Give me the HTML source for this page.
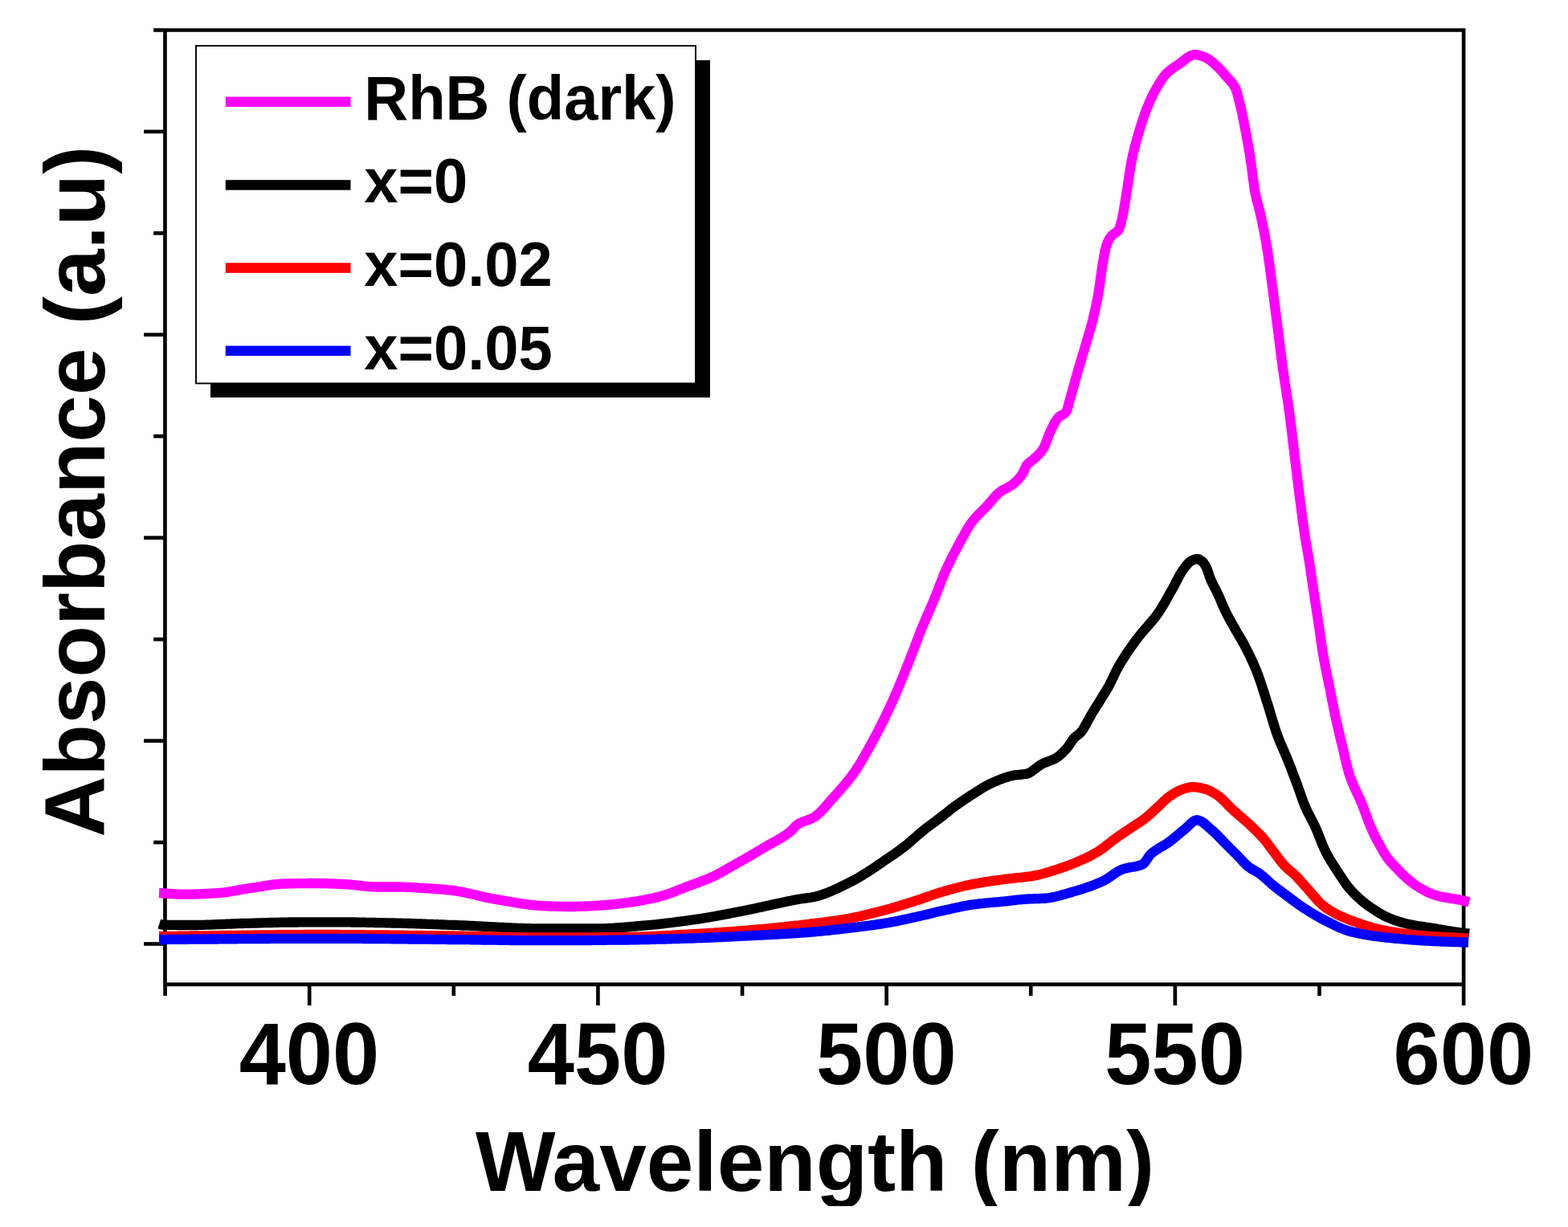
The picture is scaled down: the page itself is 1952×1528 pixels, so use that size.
<!DOCTYPE html>
<html lang="en"><head><meta charset="utf-8"><title>Absorbance vs Wavelength</title>
<style>html,body{margin:0;padding:0;background:#fff;}body{width:1952px;height:1528px;overflow:hidden;}svg{display:block;}</style>
</head><body>
<svg width="1952" height="1528" viewBox="0 0 1952 1528">
<rect width="1952" height="1528" fill="#fff"/>
<g stroke="#000" stroke-width="4.65" fill="none" stroke-linecap="butt">
<path d="M205.45,35.125 V1228.125 M1822.1,35.125 V1228.125 M203.125,37.45 H1824.425 M203.125,1225.8 H1824.425"/>
<path d="M205.59,1227.925 v12.2"/>
<path d="M385.20,1227.925 v24.2"/>
<path d="M564.81,1227.925 v12.2"/>
<path d="M744.42,1227.925 v24.2"/>
<path d="M924.04,1227.925 v12.2"/>
<path d="M1103.65,1227.925 v24.2"/>
<path d="M1283.26,1227.925 v12.2"/>
<path d="M1462.88,1227.925 v24.2"/>
<path d="M1642.49,1227.925 v12.2"/>
<path d="M1822.10,1227.925 v24.2"/>
<path d="M203.325,1175.45 h-24.2"/>
<path d="M203.325,1049.01 h-12.2"/>
<path d="M203.325,922.57 h-24.2"/>
<path d="M203.325,796.13 h-12.2"/>
<path d="M203.325,669.69 h-24.2"/>
<path d="M203.325,543.25 h-12.2"/>
<path d="M203.325,416.81 h-24.2"/>
<path d="M203.325,290.37 h-12.2"/>
<path d="M203.325,163.93 h-24.2"/>
<path d="M203.325,37.49 h-12.2"/>
</g>
<path d="M198.0,1112.0 L200.0,1112.1 L202.0,1112.2 L204.0,1112.4 L206.0,1112.5 L208.0,1112.7 L210.0,1112.8 L212.0,1113.0 L214.0,1113.1 L216.0,1113.2 L218.0,1113.4 L220.0,1113.5 L222.0,1113.6 L224.0,1113.6 L226.0,1113.7 L228.0,1113.7 L230.0,1113.8 L232.0,1113.7 L234.0,1113.7 L236.0,1113.7 L238.0,1113.7 L240.0,1113.6 L242.0,1113.6 L244.0,1113.5 L246.0,1113.4 L248.0,1113.4 L250.0,1113.3 L252.0,1113.2 L254.0,1113.1 L256.0,1113.0 L258.0,1112.9 L260.0,1112.8 L262.0,1112.7 L264.0,1112.5 L266.0,1112.4 L268.0,1112.3 L270.0,1112.2 L272.0,1112.0 L274.0,1111.9 L276.0,1111.7 L278.0,1111.5 L280.0,1111.3 L282.0,1111.0 L284.0,1110.7 L286.0,1110.4 L288.0,1110.0 L290.0,1109.7 L292.0,1109.3 L294.0,1109.0 L296.0,1108.6 L298.0,1108.2 L300.0,1107.9 L302.0,1107.5 L304.0,1107.2 L306.0,1106.9 L308.0,1106.5 L310.0,1106.2 L312.0,1106.0 L314.0,1105.7 L316.0,1105.4 L318.0,1105.0 L320.0,1104.7 L322.0,1104.4 L324.0,1104.1 L326.0,1103.7 L328.0,1103.4 L330.0,1103.1 L332.0,1102.8 L334.0,1102.5 L336.0,1102.2 L338.0,1101.9 L340.0,1101.7 L342.0,1101.4 L344.0,1101.2 L346.0,1101.0 L348.0,1100.9 L350.0,1100.7 L352.0,1100.6 L354.0,1100.5 L356.0,1100.5 L358.0,1100.4 L360.0,1100.4 L362.0,1100.4 L364.0,1100.3 L366.0,1100.3 L368.0,1100.2 L370.0,1100.2 L372.0,1100.2 L374.0,1100.2 L376.0,1100.1 L378.0,1100.1 L380.0,1100.1 L382.0,1100.1 L384.0,1100.0 L386.0,1100.0 L388.0,1100.0 L390.0,1100.0 L392.0,1100.0 L394.0,1100.0 L396.0,1100.0 L398.0,1100.0 L400.0,1100.0 L402.0,1100.1 L404.0,1100.1 L406.0,1100.2 L408.0,1100.2 L410.0,1100.3 L412.0,1100.4 L414.0,1100.5 L416.0,1100.6 L418.0,1100.7 L420.0,1100.8 L422.0,1100.8 L424.0,1100.9 L426.0,1101.1 L428.0,1101.2 L430.0,1101.2 L432.0,1101.4 L434.0,1101.5 L436.0,1101.7 L438.0,1101.8 L440.0,1102.0 L442.0,1102.2 L444.0,1102.5 L446.0,1102.7 L448.0,1102.9 L450.0,1103.1 L452.0,1103.3 L454.0,1103.5 L456.0,1103.7 L458.0,1103.9 L460.0,1104.1 L462.0,1104.2 L464.0,1104.3 L466.0,1104.4 L468.0,1104.5 L470.0,1104.5 L472.0,1104.5 L474.0,1104.5 L476.0,1104.5 L478.0,1104.5 L480.0,1104.5 L482.0,1104.5 L484.0,1104.5 L486.0,1104.5 L488.0,1104.5 L490.0,1104.5 L492.0,1104.5 L494.0,1104.5 L496.0,1104.5 L498.0,1104.5 L500.0,1104.6 L502.0,1104.6 L504.0,1104.7 L506.0,1104.8 L508.0,1104.8 L510.0,1104.9 L512.0,1105.1 L514.0,1105.2 L516.0,1105.3 L518.0,1105.4 L520.0,1105.5 L522.0,1105.7 L524.0,1105.8 L526.0,1105.9 L528.0,1106.0 L530.0,1106.1 L532.0,1106.3 L534.0,1106.4 L536.0,1106.5 L538.0,1106.6 L540.0,1106.8 L542.0,1106.9 L544.0,1107.1 L546.0,1107.2 L548.0,1107.4 L550.0,1107.5 L552.0,1107.7 L554.0,1107.9 L556.0,1108.1 L558.0,1108.3 L560.0,1108.5 L562.0,1108.7 L564.0,1108.9 L566.0,1109.2 L568.0,1109.5 L570.0,1109.8 L572.0,1110.1 L574.0,1110.5 L576.0,1110.9 L578.0,1111.3 L580.0,1111.7 L582.0,1112.2 L584.0,1112.6 L586.0,1113.1 L588.0,1113.6 L590.0,1114.1 L592.0,1114.5 L594.0,1115.0 L596.0,1115.5 L598.0,1116.0 L600.0,1116.4 L602.0,1116.9 L604.0,1117.3 L606.0,1117.8 L608.0,1118.2 L610.0,1118.6 L612.0,1119.0 L614.0,1119.3 L616.0,1119.7 L618.0,1120.0 L620.0,1120.3 L622.0,1120.7 L624.0,1121.0 L626.0,1121.4 L628.0,1121.7 L630.0,1122.1 L632.0,1122.5 L634.0,1122.8 L636.0,1123.2 L638.0,1123.5 L640.0,1123.8 L642.0,1124.2 L644.0,1124.5 L646.0,1124.8 L648.0,1125.1 L650.0,1125.4 L652.0,1125.7 L654.0,1126.0 L656.0,1126.3 L658.0,1126.5 L660.0,1126.8 L662.0,1127.0 L664.0,1127.2 L666.0,1127.4 L668.0,1127.6 L670.0,1127.8 L672.0,1127.9 L674.0,1128.1 L676.0,1128.2 L678.0,1128.2 L680.0,1128.3 L682.0,1128.4 L684.0,1128.5 L686.0,1128.5 L688.0,1128.6 L690.0,1128.7 L692.0,1128.7 L694.0,1128.8 L696.0,1128.8 L698.0,1128.9 L700.0,1128.9 L702.0,1128.9 L704.0,1129.0 L706.0,1129.0 L708.0,1129.0 L710.0,1129.0 L712.0,1129.0 L714.0,1129.0 L716.0,1129.0 L718.0,1128.9 L720.0,1128.9 L722.0,1128.8 L724.0,1128.7 L726.0,1128.7 L728.0,1128.6 L730.0,1128.5 L732.0,1128.4 L734.0,1128.3 L736.0,1128.2 L738.0,1128.1 L740.0,1128.0 L742.0,1127.8 L744.0,1127.7 L746.0,1127.6 L748.0,1127.5 L750.0,1127.4 L752.0,1127.2 L754.0,1127.1 L756.0,1126.9 L758.0,1126.7 L760.0,1126.6 L762.0,1126.4 L764.0,1126.1 L766.0,1125.9 L768.0,1125.7 L770.0,1125.5 L772.0,1125.2 L774.0,1125.0 L776.0,1124.7 L778.0,1124.5 L780.0,1124.2 L782.0,1124.0 L784.0,1123.7 L786.0,1123.4 L788.0,1123.1 L790.0,1122.8 L792.0,1122.5 L794.0,1122.1 L796.0,1121.8 L798.0,1121.4 L800.0,1121.1 L802.0,1120.7 L804.0,1120.3 L806.0,1119.9 L808.0,1119.5 L810.0,1119.1 L812.0,1118.7 L814.0,1118.2 L816.0,1117.7 L818.0,1117.2 L820.0,1116.7 L822.0,1116.2 L824.0,1115.7 L826.0,1115.1 L828.0,1114.5 L830.0,1113.9 L832.0,1113.2 L834.0,1112.5 L836.0,1111.8 L838.0,1111.0 L840.0,1110.2 L842.0,1109.4 L844.0,1108.6 L846.0,1107.8 L848.0,1107.0 L850.0,1106.2 L852.0,1105.4 L854.0,1104.6 L856.0,1103.9 L858.0,1103.1 L860.0,1102.4 L862.0,1101.7 L864.0,1100.9 L866.0,1100.2 L868.0,1099.5 L870.0,1098.8 L872.0,1098.0 L874.0,1097.2 L876.0,1096.5 L878.0,1095.7 L880.0,1094.9 L882.0,1094.0 L884.0,1093.2 L886.0,1092.3 L888.0,1091.3 L890.0,1090.4 L892.0,1089.4 L894.0,1088.3 L896.0,1087.3 L898.0,1086.2 L900.0,1085.1 L902.0,1083.9 L904.0,1082.8 L906.0,1081.7 L908.0,1080.5 L910.0,1079.4 L912.0,1078.2 L914.0,1077.1 L916.0,1076.0 L918.0,1074.8 L920.0,1073.7 L922.0,1072.6 L924.0,1071.4 L926.0,1070.3 L928.0,1069.2 L930.0,1068.0 L932.0,1066.8 L934.0,1065.7 L936.0,1064.5 L938.0,1063.4 L940.0,1062.2 L942.0,1061.0 L944.0,1059.8 L946.0,1058.6 L948.0,1057.5 L950.0,1056.3 L952.0,1055.1 L954.0,1053.9 L956.0,1052.8 L958.0,1051.6 L960.0,1050.5 L962.0,1049.4 L964.0,1048.3 L966.0,1047.2 L968.0,1046.0 L970.0,1044.9 L972.0,1043.7 L974.0,1042.5 L976.0,1041.2 L978.0,1039.9 L980.0,1038.5 L982.0,1037.0 L984.0,1035.4 L986.0,1033.5 L988.0,1031.3 L990.0,1029.2 L992.0,1027.3 L994.0,1026.0 L996.0,1024.9 L998.0,1024.0 L1000.0,1023.2 L1002.0,1022.5 L1004.0,1021.8 L1006.0,1021.1 L1008.0,1020.4 L1010.0,1019.6 L1012.0,1018.6 L1014.0,1017.4 L1016.0,1016.0 L1018.0,1014.3 L1020.0,1012.5 L1022.0,1010.6 L1024.0,1008.5 L1026.0,1006.3 L1028.0,1004.0 L1030.0,1001.7 L1032.0,999.4 L1034.0,997.0 L1036.0,994.7 L1038.0,992.5 L1040.0,990.3 L1042.0,988.1 L1044.0,985.9 L1046.0,983.6 L1048.0,981.3 L1050.0,979.0 L1052.0,976.7 L1054.0,974.3 L1056.0,971.8 L1058.0,969.2 L1060.0,966.6 L1062.0,963.9 L1064.0,961.1 L1066.0,958.1 L1068.0,955.1 L1070.0,951.9 L1072.0,948.6 L1074.0,945.2 L1076.0,941.7 L1078.0,938.2 L1080.0,934.6 L1082.0,931.0 L1084.0,927.4 L1086.0,923.7 L1088.0,920.0 L1090.0,916.3 L1092.0,912.5 L1094.0,908.6 L1096.0,904.7 L1098.0,900.8 L1100.0,896.7 L1102.0,892.6 L1104.0,888.5 L1106.0,884.3 L1108.0,880.0 L1110.0,875.6 L1112.0,871.2 L1114.0,866.6 L1116.0,862.0 L1118.0,857.3 L1120.0,852.5 L1122.0,847.7 L1124.0,842.8 L1126.0,837.8 L1128.0,832.8 L1130.0,827.7 L1132.0,822.7 L1134.0,817.6 L1136.0,812.4 L1138.0,807.2 L1140.0,801.9 L1142.0,796.6 L1144.0,791.4 L1146.0,786.2 L1148.0,781.3 L1150.0,776.5 L1152.0,771.8 L1154.0,767.2 L1156.0,762.6 L1158.0,758.1 L1160.0,753.4 L1162.0,748.7 L1164.0,743.8 L1166.0,738.8 L1168.0,733.6 L1170.0,728.4 L1172.0,723.2 L1174.0,718.2 L1176.0,713.4 L1178.0,708.9 L1180.0,704.6 L1182.0,700.4 L1184.0,696.3 L1186.0,692.3 L1188.0,688.5 L1190.0,684.7 L1192.0,680.9 L1194.0,677.2 L1196.0,673.5 L1198.0,669.8 L1200.0,666.1 L1202.0,662.5 L1204.0,659.1 L1206.0,655.8 L1208.0,652.8 L1210.0,650.0 L1212.0,647.5 L1214.0,645.1 L1216.0,642.9 L1218.0,640.8 L1220.0,638.8 L1222.0,636.8 L1224.0,634.9 L1226.0,632.9 L1228.0,630.8 L1230.0,628.6 L1232.0,626.3 L1234.0,624.0 L1236.0,621.6 L1238.0,619.3 L1240.0,617.1 L1242.0,615.1 L1244.0,613.3 L1246.0,611.8 L1248.0,610.5 L1250.0,609.4 L1252.0,608.4 L1254.0,607.4 L1256.0,606.3 L1258.0,605.1 L1260.0,603.8 L1262.0,602.2 L1264.0,600.5 L1266.0,598.6 L1268.0,596.5 L1270.0,594.1 L1272.0,591.4 L1274.0,588.3 L1276.0,583.2 L1278.0,579.3 L1280.0,577.2 L1282.0,575.5 L1284.0,574.1 L1286.0,572.6 L1288.0,570.8 L1290.0,568.9 L1292.0,566.9 L1294.0,564.9 L1296.0,562.6 L1298.0,559.9 L1300.0,556.5 L1302.0,551.7 L1304.0,546.3 L1306.0,540.9 L1308.0,536.5 L1310.0,532.4 L1312.0,528.4 L1314.0,524.9 L1316.0,521.8 L1318.0,519.5 L1320.0,518.0 L1322.0,516.9 L1324.0,515.8 L1326.0,514.2 L1328.0,511.6 L1330.0,504.8 L1332.0,497.4 L1334.0,490.3 L1336.0,483.0 L1338.0,475.7 L1340.0,468.5 L1342.0,461.5 L1344.0,454.7 L1346.0,448.0 L1348.0,441.4 L1350.0,434.7 L1352.0,428.0 L1354.0,421.1 L1356.0,414.4 L1358.0,407.5 L1360.0,400.0 L1362.0,391.8 L1364.0,382.9 L1366.0,373.1 L1368.0,362.0 L1370.0,347.6 L1372.0,333.1 L1374.0,321.2 L1376.0,310.5 L1378.0,303.7 L1380.0,299.3 L1382.0,296.0 L1384.0,293.5 L1386.0,291.7 L1388.0,290.4 L1390.0,289.0 L1392.0,286.9 L1394.0,282.9 L1396.0,276.0 L1398.0,267.0 L1400.0,255.4 L1402.0,243.0 L1404.0,230.4 L1406.0,216.6 L1408.0,204.0 L1410.0,194.1 L1412.0,185.6 L1414.0,178.0 L1416.0,170.9 L1418.0,164.0 L1420.0,157.4 L1422.0,151.1 L1424.0,145.1 L1426.0,139.5 L1428.0,134.3 L1430.0,129.5 L1432.0,125.0 L1434.0,120.7 L1436.0,116.6 L1438.0,112.8 L1440.0,109.2 L1442.0,105.8 L1444.0,102.6 L1446.0,99.5 L1448.0,96.6 L1450.0,94.0 L1452.0,91.8 L1454.0,89.8 L1456.0,88.1 L1458.0,86.5 L1460.0,85.0 L1462.0,83.6 L1464.0,82.3 L1466.0,81.0 L1468.0,79.7 L1470.0,78.2 L1472.0,76.6 L1474.0,75.0 L1476.0,73.5 L1478.0,72.0 L1480.0,70.6 L1482.0,69.5 L1484.0,68.6 L1486.0,68.1 L1488.0,68.0 L1490.0,68.2 L1492.0,68.6 L1494.0,69.1 L1496.0,69.8 L1498.0,70.5 L1500.0,71.2 L1502.0,72.2 L1504.0,73.3 L1506.0,74.7 L1508.0,76.3 L1510.0,78.0 L1512.0,79.8 L1514.0,81.6 L1516.0,83.4 L1518.0,85.4 L1520.0,87.5 L1522.0,89.8 L1524.0,92.1 L1526.0,94.5 L1528.0,96.8 L1530.0,99.0 L1532.0,101.1 L1534.0,103.4 L1536.0,106.2 L1538.0,109.8 L1540.0,115.5 L1542.0,123.0 L1544.0,131.0 L1546.0,139.9 L1548.0,149.7 L1550.0,160.0 L1552.0,170.5 L1554.0,181.5 L1556.0,193.4 L1558.0,207.5 L1560.0,223.3 L1562.0,237.2 L1564.0,246.9 L1566.0,254.4 L1568.0,261.8 L1570.0,270.7 L1572.0,280.1 L1574.0,290.3 L1576.0,301.2 L1578.0,313.1 L1580.0,326.8 L1582.0,341.8 L1584.0,357.3 L1586.0,372.6 L1588.0,388.3 L1590.0,403.9 L1592.0,419.8 L1594.0,435.8 L1596.0,451.4 L1598.0,466.0 L1600.0,479.3 L1602.0,492.1 L1604.0,505.3 L1606.0,520.2 L1608.0,536.6 L1610.0,553.8 L1612.0,570.9 L1614.0,587.2 L1616.0,603.3 L1618.0,619.2 L1620.0,634.7 L1622.0,650.1 L1624.0,664.2 L1626.0,676.4 L1628.0,688.0 L1630.0,700.0 L1632.0,713.3 L1634.0,727.1 L1636.0,740.8 L1638.0,754.0 L1640.0,766.9 L1642.0,780.0 L1644.0,794.0 L1646.0,808.0 L1648.0,820.4 L1650.0,830.9 L1652.0,840.6 L1654.0,850.1 L1656.0,860.0 L1658.0,870.3 L1660.0,880.4 L1662.0,890.2 L1664.0,899.3 L1666.0,908.1 L1668.0,916.5 L1670.0,924.8 L1672.0,933.1 L1674.0,941.8 L1676.0,950.3 L1678.0,958.2 L1680.0,965.0 L1682.0,970.7 L1684.0,975.7 L1686.0,980.3 L1688.0,984.6 L1690.0,988.8 L1692.0,993.1 L1694.0,997.6 L1696.0,1002.5 L1698.0,1007.8 L1700.0,1013.2 L1702.0,1018.6 L1704.0,1024.0 L1706.0,1029.0 L1708.0,1033.6 L1710.0,1037.9 L1712.0,1042.0 L1714.0,1045.8 L1716.0,1049.5 L1718.0,1053.2 L1720.0,1056.8 L1722.0,1060.3 L1724.0,1063.6 L1726.0,1066.6 L1728.0,1069.4 L1730.0,1071.9 L1732.0,1074.2 L1734.0,1076.3 L1736.0,1078.4 L1738.0,1080.5 L1740.0,1082.6 L1742.0,1084.7 L1744.0,1086.8 L1746.0,1088.8 L1748.0,1090.7 L1750.0,1092.5 L1752.0,1094.3 L1754.0,1096.0 L1756.0,1097.7 L1758.0,1099.3 L1760.0,1100.8 L1762.0,1102.2 L1764.0,1103.4 L1766.0,1104.7 L1768.0,1105.9 L1770.0,1107.1 L1772.0,1108.2 L1774.0,1109.3 L1776.0,1110.4 L1778.0,1111.3 L1780.0,1112.3 L1782.0,1113.1 L1784.0,1113.9 L1786.0,1114.5 L1788.0,1115.1 L1790.0,1115.7 L1792.0,1116.2 L1794.0,1116.6 L1796.0,1117.0 L1798.0,1117.4 L1800.0,1117.7 L1802.0,1118.1 L1804.0,1118.4 L1806.0,1118.7 L1808.0,1119.1 L1810.0,1119.4 L1812.0,1119.7 L1814.0,1120.1 L1816.0,1120.4 L1818.0,1120.8 L1820.0,1121.2 L1822.0,1121.7 L1824.0,1122.2 L1826.0,1122.7 L1828.0,1123.2 L1829.0,1123.5" fill="none" stroke="#ff00ff" stroke-width="12.3" stroke-linejoin="round" stroke-linecap="butt"/>
<path d="M198.3,1150.6 L200.3,1151.2 L202.3,1151.7 L204.3,1151.8 L206.3,1151.8 L208.3,1151.9 L210.3,1151.9 L212.3,1151.9 L214.3,1151.9 L216.3,1151.9 L218.3,1151.9 L220.3,1152.0 L222.3,1152.0 L224.3,1152.0 L226.3,1152.0 L228.3,1152.0 L230.3,1152.0 L232.3,1152.0 L234.3,1152.0 L236.3,1152.0 L238.3,1152.0 L240.3,1152.0 L242.3,1152.0 L244.3,1152.0 L246.3,1152.0 L248.3,1151.9 L250.3,1151.9 L252.3,1151.8 L254.3,1151.8 L256.3,1151.7 L258.3,1151.7 L260.3,1151.6 L262.3,1151.6 L264.3,1151.5 L266.3,1151.4 L268.3,1151.3 L270.3,1151.2 L272.3,1151.2 L274.3,1151.1 L276.3,1151.0 L278.3,1150.9 L280.3,1150.8 L282.3,1150.7 L284.3,1150.6 L286.3,1150.6 L288.3,1150.5 L290.3,1150.4 L292.3,1150.3 L294.3,1150.2 L296.3,1150.2 L298.3,1150.1 L300.3,1150.0 L302.3,1150.0 L304.3,1149.9 L306.3,1149.9 L308.3,1149.8 L310.3,1149.8 L312.3,1149.7 L314.3,1149.6 L316.3,1149.6 L318.3,1149.5 L320.3,1149.5 L322.3,1149.4 L324.3,1149.4 L326.3,1149.3 L328.3,1149.2 L330.3,1149.2 L332.3,1149.1 L334.3,1149.1 L336.3,1149.0 L338.3,1149.0 L340.3,1148.9 L342.3,1148.9 L344.3,1148.8 L346.3,1148.8 L348.3,1148.7 L350.3,1148.7 L352.3,1148.7 L354.3,1148.6 L356.3,1148.6 L358.3,1148.6 L360.3,1148.5 L362.3,1148.5 L364.3,1148.5 L366.3,1148.5 L368.3,1148.5 L370.3,1148.5 L372.3,1148.4 L374.3,1148.4 L376.3,1148.4 L378.3,1148.4 L380.3,1148.4 L382.3,1148.4 L384.3,1148.3 L386.3,1148.3 L388.3,1148.3 L390.3,1148.3 L392.3,1148.3 L394.3,1148.3 L396.3,1148.3 L398.3,1148.3 L400.3,1148.3 L402.3,1148.3 L404.3,1148.3 L406.3,1148.3 L408.3,1148.3 L410.3,1148.3 L412.3,1148.3 L414.3,1148.3 L416.3,1148.3 L418.3,1148.3 L420.3,1148.3 L422.3,1148.3 L424.3,1148.3 L426.3,1148.3 L428.3,1148.3 L430.3,1148.4 L432.3,1148.4 L434.3,1148.4 L436.3,1148.4 L438.3,1148.5 L440.3,1148.5 L442.3,1148.5 L444.3,1148.6 L446.3,1148.6 L448.3,1148.6 L450.3,1148.7 L452.3,1148.7 L454.3,1148.7 L456.3,1148.8 L458.3,1148.8 L460.3,1148.9 L462.3,1148.9 L464.3,1148.9 L466.3,1149.0 L468.3,1149.0 L470.3,1149.1 L472.3,1149.1 L474.3,1149.2 L476.3,1149.2 L478.3,1149.2 L480.3,1149.3 L482.3,1149.3 L484.3,1149.4 L486.3,1149.4 L488.3,1149.5 L490.3,1149.5 L492.3,1149.6 L494.3,1149.6 L496.3,1149.6 L498.3,1149.7 L500.3,1149.7 L502.3,1149.8 L504.3,1149.9 L506.3,1149.9 L508.3,1150.0 L510.3,1150.0 L512.3,1150.1 L514.3,1150.2 L516.3,1150.2 L518.3,1150.3 L520.3,1150.4 L522.3,1150.4 L524.3,1150.5 L526.3,1150.6 L528.3,1150.6 L530.3,1150.7 L532.3,1150.8 L534.3,1150.9 L536.3,1150.9 L538.3,1151.0 L540.3,1151.1 L542.3,1151.2 L544.3,1151.2 L546.3,1151.3 L548.3,1151.4 L550.3,1151.5 L552.3,1151.5 L554.3,1151.6 L556.3,1151.7 L558.3,1151.8 L560.3,1151.8 L562.3,1151.9 L564.3,1152.0 L566.3,1152.0 L568.3,1152.1 L570.3,1152.2 L572.3,1152.3 L574.3,1152.4 L576.3,1152.5 L578.3,1152.5 L580.3,1152.6 L582.3,1152.7 L584.3,1152.8 L586.3,1152.9 L588.3,1153.0 L590.3,1153.1 L592.3,1153.2 L594.3,1153.3 L596.3,1153.4 L598.3,1153.5 L600.3,1153.6 L602.3,1153.8 L604.3,1153.9 L606.3,1154.0 L608.3,1154.1 L610.3,1154.2 L612.3,1154.3 L614.3,1154.4 L616.3,1154.5 L618.3,1154.6 L620.3,1154.7 L622.3,1154.8 L624.3,1154.9 L626.3,1155.0 L628.3,1155.1 L630.3,1155.2 L632.3,1155.3 L634.3,1155.4 L636.3,1155.5 L638.3,1155.6 L640.3,1155.6 L642.3,1155.7 L644.3,1155.8 L646.3,1155.9 L648.3,1155.9 L650.3,1156.0 L652.3,1156.1 L654.3,1156.1 L656.3,1156.2 L658.3,1156.2 L660.3,1156.3 L662.3,1156.3 L664.3,1156.4 L666.3,1156.4 L668.3,1156.4 L670.3,1156.5 L672.3,1156.5 L674.3,1156.5 L676.3,1156.5 L678.3,1156.5 L680.3,1156.5 L682.3,1156.5 L684.3,1156.5 L686.3,1156.5 L688.3,1156.5 L690.3,1156.5 L692.3,1156.5 L694.3,1156.5 L696.3,1156.5 L698.3,1156.5 L700.3,1156.5 L702.3,1156.5 L704.3,1156.5 L706.3,1156.5 L708.3,1156.5 L710.3,1156.5 L712.3,1156.5 L714.3,1156.5 L716.3,1156.5 L718.3,1156.5 L720.3,1156.5 L722.3,1156.5 L724.3,1156.5 L726.3,1156.5 L728.3,1156.5 L730.3,1156.5 L732.3,1156.5 L734.3,1156.5 L736.3,1156.5 L738.3,1156.5 L740.3,1156.5 L742.3,1156.5 L744.3,1156.5 L746.3,1156.4 L748.3,1156.4 L750.3,1156.3 L752.3,1156.3 L754.3,1156.2 L756.3,1156.1 L758.3,1156.0 L760.3,1155.9 L762.3,1155.8 L764.3,1155.7 L766.3,1155.5 L768.3,1155.4 L770.3,1155.3 L772.3,1155.1 L774.3,1155.0 L776.3,1154.8 L778.3,1154.6 L780.3,1154.5 L782.3,1154.3 L784.3,1154.1 L786.3,1154.0 L788.3,1153.8 L790.3,1153.6 L792.3,1153.4 L794.3,1153.2 L796.3,1153.1 L798.3,1152.9 L800.3,1152.7 L802.3,1152.6 L804.3,1152.4 L806.3,1152.2 L808.3,1152.0 L810.3,1151.9 L812.3,1151.7 L814.3,1151.5 L816.3,1151.3 L818.3,1151.1 L820.3,1150.8 L822.3,1150.6 L824.3,1150.4 L826.3,1150.2 L828.3,1149.9 L830.3,1149.7 L832.3,1149.5 L834.3,1149.2 L836.3,1149.0 L838.3,1148.7 L840.3,1148.5 L842.3,1148.2 L844.3,1147.9 L846.3,1147.7 L848.3,1147.4 L850.3,1147.1 L852.3,1146.9 L854.3,1146.6 L856.3,1146.3 L858.3,1146.0 L860.3,1145.7 L862.3,1145.5 L864.3,1145.2 L866.3,1144.9 L868.3,1144.6 L870.3,1144.3 L872.3,1144.0 L874.3,1143.7 L876.3,1143.3 L878.3,1143.0 L880.3,1142.7 L882.3,1142.4 L884.3,1142.0 L886.3,1141.7 L888.3,1141.3 L890.3,1141.0 L892.3,1140.6 L894.3,1140.2 L896.3,1139.9 L898.3,1139.5 L900.3,1139.1 L902.3,1138.7 L904.3,1138.4 L906.3,1138.0 L908.3,1137.6 L910.3,1137.2 L912.3,1136.8 L914.3,1136.4 L916.3,1136.0 L918.3,1135.7 L920.3,1135.3 L922.3,1134.9 L924.3,1134.5 L926.3,1134.1 L928.3,1133.7 L930.3,1133.3 L932.3,1132.9 L934.3,1132.5 L936.3,1132.1 L938.3,1131.6 L940.3,1131.2 L942.3,1130.8 L944.3,1130.3 L946.3,1129.9 L948.3,1129.5 L950.3,1129.0 L952.3,1128.6 L954.3,1128.1 L956.3,1127.7 L958.3,1127.3 L960.3,1126.8 L962.3,1126.4 L964.3,1125.9 L966.3,1125.5 L968.3,1125.1 L970.3,1124.6 L972.3,1124.2 L974.3,1123.8 L976.3,1123.4 L978.3,1122.9 L980.3,1122.5 L982.3,1122.1 L984.3,1121.7 L986.3,1121.3 L988.3,1120.9 L990.3,1120.5 L992.3,1120.1 L994.3,1119.8 L996.3,1119.5 L998.3,1119.2 L1000.3,1118.9 L1002.3,1118.7 L1004.3,1118.4 L1006.3,1118.1 L1008.3,1117.8 L1010.3,1117.5 L1012.3,1117.1 L1014.3,1116.7 L1016.3,1116.2 L1018.3,1115.7 L1020.3,1115.1 L1022.3,1114.5 L1024.3,1113.8 L1026.3,1113.1 L1028.3,1112.4 L1030.3,1111.6 L1032.3,1110.8 L1034.3,1110.0 L1036.3,1109.1 L1038.3,1108.2 L1040.3,1107.3 L1042.3,1106.4 L1044.3,1105.4 L1046.3,1104.5 L1048.3,1103.5 L1050.3,1102.5 L1052.3,1101.5 L1054.3,1100.6 L1056.3,1099.6 L1058.3,1098.6 L1060.3,1097.6 L1062.3,1096.5 L1064.3,1095.5 L1066.3,1094.3 L1068.3,1093.2 L1070.3,1092.0 L1072.3,1090.8 L1074.3,1089.5 L1076.3,1088.3 L1078.3,1087.1 L1080.3,1085.8 L1082.3,1084.5 L1084.3,1083.2 L1086.3,1081.9 L1088.3,1080.6 L1090.3,1079.2 L1092.3,1077.8 L1094.3,1076.4 L1096.3,1075.1 L1098.3,1073.7 L1100.3,1072.3 L1102.3,1070.9 L1104.3,1069.6 L1106.3,1068.2 L1108.3,1066.9 L1110.3,1065.5 L1112.3,1064.1 L1114.3,1062.8 L1116.3,1061.4 L1118.3,1060.0 L1120.3,1058.5 L1122.3,1057.0 L1124.3,1055.5 L1126.3,1054.0 L1128.3,1052.4 L1130.3,1050.7 L1132.3,1049.0 L1134.3,1047.3 L1136.3,1045.5 L1138.3,1043.8 L1140.3,1042.0 L1142.3,1040.2 L1144.3,1038.5 L1146.3,1036.8 L1148.3,1035.1 L1150.3,1033.5 L1152.3,1031.9 L1154.3,1030.4 L1156.3,1028.9 L1158.3,1027.4 L1160.3,1026.0 L1162.3,1024.5 L1164.3,1023.0 L1166.3,1021.5 L1168.3,1020.0 L1170.3,1018.5 L1172.3,1017.0 L1174.3,1015.4 L1176.3,1013.8 L1178.3,1012.2 L1180.3,1010.6 L1182.3,1009.0 L1184.3,1007.4 L1186.3,1005.9 L1188.3,1004.4 L1190.3,1003.0 L1192.3,1001.5 L1194.3,1000.1 L1196.3,998.7 L1198.3,997.3 L1200.3,996.0 L1202.3,994.6 L1204.3,993.3 L1206.3,992.0 L1208.3,990.7 L1210.3,989.4 L1212.3,988.2 L1214.3,986.9 L1216.3,985.6 L1218.3,984.3 L1220.3,983.0 L1222.3,981.8 L1224.3,980.6 L1226.3,979.4 L1228.3,978.3 L1230.3,977.2 L1232.3,976.2 L1234.3,975.3 L1236.3,974.4 L1238.3,973.6 L1240.3,972.7 L1242.3,971.9 L1244.3,971.0 L1246.3,970.3 L1248.3,969.5 L1250.3,968.8 L1252.3,968.1 L1254.3,967.5 L1256.3,966.9 L1258.3,966.4 L1260.3,965.9 L1262.3,965.5 L1264.3,965.2 L1266.3,965.0 L1268.3,964.8 L1270.3,964.6 L1272.3,964.5 L1274.3,964.2 L1276.3,964.0 L1278.3,963.6 L1280.3,962.9 L1282.3,961.9 L1284.3,960.6 L1286.3,959.2 L1288.3,957.7 L1290.3,956.1 L1292.3,954.6 L1294.3,953.2 L1296.3,951.9 L1298.3,950.9 L1300.3,950.0 L1302.3,949.2 L1304.3,948.4 L1306.3,947.7 L1308.3,946.9 L1310.3,946.1 L1312.3,945.2 L1314.3,944.2 L1316.3,942.9 L1318.3,941.5 L1320.3,939.8 L1322.3,937.9 L1324.3,935.9 L1326.3,933.8 L1328.3,931.6 L1330.3,928.9 L1332.3,925.8 L1334.3,922.8 L1336.3,920.1 L1338.3,918.0 L1340.3,916.4 L1342.3,914.9 L1344.3,913.2 L1346.3,911.0 L1348.3,908.2 L1350.3,904.9 L1352.3,901.4 L1354.3,897.7 L1356.3,894.0 L1358.3,890.4 L1360.3,887.0 L1362.3,883.8 L1364.3,880.6 L1366.3,877.4 L1368.3,874.3 L1370.3,871.1 L1372.3,867.8 L1374.3,864.6 L1376.3,861.3 L1378.3,858.0 L1380.3,854.5 L1382.3,850.6 L1384.3,846.5 L1386.3,842.3 L1388.3,838.1 L1390.3,834.1 L1392.3,830.3 L1394.3,826.9 L1396.3,823.6 L1398.3,820.4 L1400.3,817.3 L1402.3,814.2 L1404.3,811.2 L1406.3,808.3 L1408.3,805.5 L1410.3,802.7 L1412.3,799.9 L1414.3,797.2 L1416.3,794.5 L1418.3,792.0 L1420.3,789.5 L1422.3,787.1 L1424.3,784.8 L1426.3,782.5 L1428.3,780.2 L1430.3,777.9 L1432.3,775.6 L1434.3,773.2 L1436.3,770.8 L1438.3,768.3 L1440.3,765.6 L1442.3,762.8 L1444.3,759.8 L1446.3,756.6 L1448.3,753.3 L1450.3,749.9 L1452.3,746.3 L1454.3,742.7 L1456.3,739.1 L1458.3,735.5 L1460.3,732.0 L1462.3,728.3 L1464.3,724.4 L1466.3,720.6 L1468.3,716.8 L1470.3,713.3 L1472.3,710.3 L1474.3,707.5 L1476.3,704.8 L1478.3,702.4 L1480.3,700.3 L1482.3,698.9 L1484.3,697.8 L1486.3,696.9 L1488.3,696.3 L1490.3,696.0 L1492.3,696.4 L1494.3,697.5 L1496.3,698.9 L1498.3,700.8 L1500.3,703.8 L1502.3,707.8 L1504.3,713.5 L1506.3,719.4 L1508.3,724.3 L1510.3,728.4 L1512.3,732.2 L1514.3,736.0 L1516.3,740.1 L1518.3,744.6 L1520.3,749.3 L1522.3,754.0 L1524.3,758.5 L1526.3,762.6 L1528.3,766.5 L1530.3,770.3 L1532.3,773.9 L1534.3,777.5 L1536.3,781.1 L1538.3,784.6 L1540.3,788.0 L1542.3,791.4 L1544.3,794.8 L1546.3,798.2 L1548.3,801.8 L1550.3,805.6 L1552.3,809.5 L1554.3,813.5 L1556.3,817.6 L1558.3,821.8 L1560.3,826.3 L1562.3,830.9 L1564.3,835.7 L1566.3,840.9 L1568.3,846.5 L1570.3,852.4 L1572.3,858.6 L1574.3,864.9 L1576.3,871.3 L1578.3,877.5 L1580.3,884.0 L1582.3,890.7 L1584.3,897.4 L1586.3,903.9 L1588.3,910.1 L1590.3,915.8 L1592.3,921.0 L1594.3,925.9 L1596.3,930.5 L1598.3,935.1 L1600.3,939.7 L1602.3,944.5 L1604.3,949.5 L1606.3,954.6 L1608.3,959.8 L1610.3,965.0 L1612.3,970.3 L1614.3,975.6 L1616.3,981.1 L1618.3,986.8 L1620.3,992.5 L1622.3,998.1 L1624.3,1003.3 L1626.3,1007.9 L1628.3,1012.1 L1630.3,1015.9 L1632.3,1019.7 L1634.3,1023.5 L1636.3,1027.5 L1638.3,1031.8 L1640.3,1036.6 L1642.3,1041.6 L1644.3,1046.7 L1646.3,1051.7 L1648.3,1056.4 L1650.3,1060.6 L1652.3,1064.4 L1654.3,1068.0 L1656.3,1071.4 L1658.3,1074.6 L1660.3,1077.8 L1662.3,1080.9 L1664.3,1083.9 L1666.3,1087.0 L1668.3,1090.1 L1670.3,1093.1 L1672.3,1096.2 L1674.3,1099.1 L1676.3,1101.9 L1678.3,1104.5 L1680.3,1106.9 L1682.3,1109.1 L1684.3,1111.3 L1686.3,1113.3 L1688.3,1115.3 L1690.3,1117.2 L1692.3,1119.0 L1694.3,1120.8 L1696.3,1122.5 L1698.3,1124.1 L1700.3,1125.7 L1702.3,1127.2 L1704.3,1128.6 L1706.3,1130.0 L1708.3,1131.4 L1710.3,1132.7 L1712.3,1134.0 L1714.3,1135.3 L1716.3,1136.5 L1718.3,1137.7 L1720.3,1138.8 L1722.3,1139.9 L1724.3,1140.9 L1726.3,1141.9 L1728.3,1142.8 L1730.3,1143.6 L1732.3,1144.4 L1734.3,1145.2 L1736.3,1145.9 L1738.3,1146.6 L1740.3,1147.2 L1742.3,1147.9 L1744.3,1148.5 L1746.3,1149.1 L1748.3,1149.6 L1750.3,1150.1 L1752.3,1150.6 L1754.3,1151.1 L1756.3,1151.5 L1758.3,1151.9 L1760.3,1152.3 L1762.3,1152.7 L1764.3,1153.0 L1766.3,1153.3 L1768.3,1153.6 L1770.3,1153.9 L1772.3,1154.2 L1774.3,1154.5 L1776.3,1154.8 L1778.3,1155.1 L1780.3,1155.4 L1782.3,1155.7 L1784.3,1156.0 L1786.3,1156.3 L1788.3,1156.6 L1790.3,1157.0 L1792.3,1157.3 L1794.3,1157.7 L1796.3,1158.0 L1798.3,1158.4 L1800.3,1158.7 L1802.3,1159.1 L1804.3,1159.4 L1806.3,1159.7 L1808.3,1160.0 L1810.3,1160.3 L1812.3,1160.6 L1814.3,1160.9 L1816.3,1161.2 L1818.3,1161.4 L1820.3,1161.7 L1822.3,1161.9 L1824.3,1162.2 L1826.3,1162.4 L1828.3,1162.7 L1829.0,1162.8" fill="none" stroke="#000" stroke-width="12.3" stroke-linejoin="round" stroke-linecap="butt"/>
<path d="M198.0,1166.0 L200.0,1166.0 L202.0,1166.0 L204.0,1165.9 L206.0,1165.9 L208.0,1165.9 L210.0,1165.9 L212.0,1165.9 L214.0,1165.8 L216.0,1165.8 L218.0,1165.8 L220.0,1165.8 L222.0,1165.7 L224.0,1165.7 L226.0,1165.7 L228.0,1165.7 L230.0,1165.6 L232.0,1165.6 L234.0,1165.6 L236.0,1165.6 L238.0,1165.5 L240.0,1165.5 L242.0,1165.5 L244.0,1165.5 L246.0,1165.4 L248.0,1165.4 L250.0,1165.4 L252.0,1165.4 L254.0,1165.3 L256.0,1165.3 L258.0,1165.3 L260.0,1165.3 L262.0,1165.2 L264.0,1165.2 L266.0,1165.2 L268.0,1165.1 L270.0,1165.1 L272.0,1165.1 L274.0,1165.1 L276.0,1165.0 L278.0,1165.0 L280.0,1165.0 L282.0,1165.0 L284.0,1164.9 L286.0,1164.9 L288.0,1164.9 L290.0,1164.9 L292.0,1164.8 L294.0,1164.8 L296.0,1164.8 L298.0,1164.8 L300.0,1164.7 L302.0,1164.7 L304.0,1164.7 L306.0,1164.7 L308.0,1164.6 L310.0,1164.6 L312.0,1164.6 L314.0,1164.6 L316.0,1164.5 L318.0,1164.5 L320.0,1164.5 L322.0,1164.5 L324.0,1164.5 L326.0,1164.4 L328.0,1164.4 L330.0,1164.4 L332.0,1164.4 L334.0,1164.4 L336.0,1164.3 L338.0,1164.3 L340.0,1164.3 L342.0,1164.3 L344.0,1164.3 L346.0,1164.2 L348.0,1164.2 L350.0,1164.2 L352.0,1164.2 L354.0,1164.2 L356.0,1164.2 L358.0,1164.2 L360.0,1164.1 L362.0,1164.1 L364.0,1164.1 L366.0,1164.1 L368.0,1164.1 L370.0,1164.1 L372.0,1164.1 L374.0,1164.1 L376.0,1164.1 L378.0,1164.0 L380.0,1164.0 L382.0,1164.0 L384.0,1164.0 L386.0,1164.0 L388.0,1164.0 L390.0,1164.0 L392.0,1164.0 L394.0,1164.0 L396.0,1164.0 L398.0,1164.0 L400.0,1164.0 L402.0,1164.0 L404.0,1164.0 L406.0,1164.0 L408.0,1164.0 L410.0,1164.0 L412.0,1164.0 L414.0,1164.0 L416.0,1164.0 L418.0,1164.0 L420.0,1164.0 L422.0,1164.0 L424.0,1164.1 L426.0,1164.1 L428.0,1164.1 L430.0,1164.1 L432.0,1164.1 L434.0,1164.1 L436.0,1164.1 L438.0,1164.1 L440.0,1164.1 L442.0,1164.2 L444.0,1164.2 L446.0,1164.2 L448.0,1164.2 L450.0,1164.2 L452.0,1164.2 L454.0,1164.2 L456.0,1164.3 L458.0,1164.3 L460.0,1164.3 L462.0,1164.3 L464.0,1164.3 L466.0,1164.3 L468.0,1164.4 L470.0,1164.4 L472.0,1164.4 L474.0,1164.4 L476.0,1164.4 L478.0,1164.5 L480.0,1164.5 L482.0,1164.5 L484.0,1164.5 L486.0,1164.6 L488.0,1164.6 L490.0,1164.6 L492.0,1164.6 L494.0,1164.6 L496.0,1164.7 L498.0,1164.7 L500.0,1164.7 L502.0,1164.7 L504.0,1164.8 L506.0,1164.8 L508.0,1164.8 L510.0,1164.8 L512.0,1164.9 L514.0,1164.9 L516.0,1164.9 L518.0,1164.9 L520.0,1165.0 L522.0,1165.0 L524.0,1165.0 L526.0,1165.0 L528.0,1165.1 L530.0,1165.1 L532.0,1165.1 L534.0,1165.1 L536.0,1165.2 L538.0,1165.2 L540.0,1165.2 L542.0,1165.2 L544.0,1165.3 L546.0,1165.3 L548.0,1165.3 L550.0,1165.4 L552.0,1165.4 L554.0,1165.4 L556.0,1165.4 L558.0,1165.5 L560.0,1165.5 L562.0,1165.5 L564.0,1165.5 L566.0,1165.6 L568.0,1165.6 L570.0,1165.6 L572.0,1165.6 L574.0,1165.7 L576.0,1165.7 L578.0,1165.7 L580.0,1165.8 L582.0,1165.8 L584.0,1165.9 L586.0,1165.9 L588.0,1165.9 L590.0,1166.0 L592.0,1166.0 L594.0,1166.1 L596.0,1166.1 L598.0,1166.2 L600.0,1166.2 L602.0,1166.3 L604.0,1166.3 L606.0,1166.4 L608.0,1166.4 L610.0,1166.4 L612.0,1166.5 L614.0,1166.5 L616.0,1166.6 L618.0,1166.6 L620.0,1166.7 L622.0,1166.7 L624.0,1166.8 L626.0,1166.8 L628.0,1166.9 L630.0,1166.9 L632.0,1166.9 L634.0,1167.0 L636.0,1167.0 L638.0,1167.1 L640.0,1167.1 L642.0,1167.1 L644.0,1167.2 L646.0,1167.2 L648.0,1167.2 L650.0,1167.3 L652.0,1167.3 L654.0,1167.3 L656.0,1167.4 L658.0,1167.4 L660.0,1167.4 L662.0,1167.4 L664.0,1167.4 L666.0,1167.5 L668.0,1167.5 L670.0,1167.5 L672.0,1167.5 L674.0,1167.5 L676.0,1167.5 L678.0,1167.5 L680.0,1167.5 L682.0,1167.5 L684.0,1167.5 L686.0,1167.5 L688.0,1167.5 L690.0,1167.5 L692.0,1167.5 L694.0,1167.5 L696.0,1167.5 L698.0,1167.5 L700.0,1167.5 L702.0,1167.5 L704.0,1167.5 L706.0,1167.5 L708.0,1167.5 L710.0,1167.4 L712.0,1167.4 L714.0,1167.4 L716.0,1167.4 L718.0,1167.4 L720.0,1167.4 L722.0,1167.4 L724.0,1167.4 L726.0,1167.4 L728.0,1167.4 L730.0,1167.4 L732.0,1167.3 L734.0,1167.3 L736.0,1167.3 L738.0,1167.3 L740.0,1167.3 L742.0,1167.3 L744.0,1167.3 L746.0,1167.3 L748.0,1167.2 L750.0,1167.2 L752.0,1167.2 L754.0,1167.2 L756.0,1167.2 L758.0,1167.2 L760.0,1167.2 L762.0,1167.1 L764.0,1167.1 L766.0,1167.1 L768.0,1167.1 L770.0,1167.1 L772.0,1167.1 L774.0,1167.0 L776.0,1167.0 L778.0,1167.0 L780.0,1167.0 L782.0,1167.0 L784.0,1166.9 L786.0,1166.9 L788.0,1166.8 L790.0,1166.8 L792.0,1166.7 L794.0,1166.7 L796.0,1166.6 L798.0,1166.5 L800.0,1166.5 L802.0,1166.4 L804.0,1166.3 L806.0,1166.2 L808.0,1166.1 L810.0,1166.0 L812.0,1165.9 L814.0,1165.9 L816.0,1165.8 L818.0,1165.7 L820.0,1165.6 L822.0,1165.4 L824.0,1165.3 L826.0,1165.2 L828.0,1165.1 L830.0,1165.0 L832.0,1164.9 L834.0,1164.8 L836.0,1164.7 L838.0,1164.6 L840.0,1164.5 L842.0,1164.3 L844.0,1164.2 L846.0,1164.1 L848.0,1164.0 L850.0,1163.9 L852.0,1163.8 L854.0,1163.7 L856.0,1163.6 L858.0,1163.5 L860.0,1163.4 L862.0,1163.3 L864.0,1163.1 L866.0,1163.0 L868.0,1162.9 L870.0,1162.8 L872.0,1162.7 L874.0,1162.6 L876.0,1162.4 L878.0,1162.3 L880.0,1162.2 L882.0,1162.1 L884.0,1161.9 L886.0,1161.8 L888.0,1161.7 L890.0,1161.5 L892.0,1161.4 L894.0,1161.3 L896.0,1161.1 L898.0,1161.0 L900.0,1160.9 L902.0,1160.7 L904.0,1160.6 L906.0,1160.4 L908.0,1160.3 L910.0,1160.1 L912.0,1160.0 L914.0,1159.8 L916.0,1159.7 L918.0,1159.5 L920.0,1159.4 L922.0,1159.2 L924.0,1159.1 L926.0,1158.9 L928.0,1158.8 L930.0,1158.6 L932.0,1158.4 L934.0,1158.3 L936.0,1158.1 L938.0,1157.9 L940.0,1157.7 L942.0,1157.6 L944.0,1157.4 L946.0,1157.2 L948.0,1157.0 L950.0,1156.8 L952.0,1156.7 L954.0,1156.5 L956.0,1156.3 L958.0,1156.1 L960.0,1155.9 L962.0,1155.7 L964.0,1155.5 L966.0,1155.3 L968.0,1155.1 L970.0,1154.9 L972.0,1154.7 L974.0,1154.5 L976.0,1154.3 L978.0,1154.0 L980.0,1153.8 L982.0,1153.6 L984.0,1153.4 L986.0,1153.2 L988.0,1153.0 L990.0,1152.7 L992.0,1152.5 L994.0,1152.3 L996.0,1152.1 L998.0,1151.8 L1000.0,1151.6 L1002.0,1151.4 L1004.0,1151.1 L1006.0,1150.9 L1008.0,1150.7 L1010.0,1150.4 L1012.0,1150.2 L1014.0,1150.0 L1016.0,1149.7 L1018.0,1149.5 L1020.0,1149.2 L1022.0,1149.0 L1024.0,1148.7 L1026.0,1148.5 L1028.0,1148.2 L1030.0,1147.9 L1032.0,1147.7 L1034.0,1147.4 L1036.0,1147.1 L1038.0,1146.8 L1040.0,1146.6 L1042.0,1146.3 L1044.0,1146.0 L1046.0,1145.6 L1048.0,1145.3 L1050.0,1145.0 L1052.0,1144.7 L1054.0,1144.3 L1056.0,1144.0 L1058.0,1143.6 L1060.0,1143.2 L1062.0,1142.8 L1064.0,1142.4 L1066.0,1142.0 L1068.0,1141.6 L1070.0,1141.1 L1072.0,1140.7 L1074.0,1140.2 L1076.0,1139.8 L1078.0,1139.3 L1080.0,1138.8 L1082.0,1138.3 L1084.0,1137.8 L1086.0,1137.3 L1088.0,1136.8 L1090.0,1136.3 L1092.0,1135.8 L1094.0,1135.3 L1096.0,1134.8 L1098.0,1134.3 L1100.0,1133.8 L1102.0,1133.2 L1104.0,1132.7 L1106.0,1132.1 L1108.0,1131.6 L1110.0,1131.0 L1112.0,1130.4 L1114.0,1129.8 L1116.0,1129.2 L1118.0,1128.6 L1120.0,1128.0 L1122.0,1127.4 L1124.0,1126.8 L1126.0,1126.1 L1128.0,1125.5 L1130.0,1124.9 L1132.0,1124.2 L1134.0,1123.6 L1136.0,1123.0 L1138.0,1122.3 L1140.0,1121.7 L1142.0,1121.0 L1144.0,1120.4 L1146.0,1119.7 L1148.0,1119.0 L1150.0,1118.3 L1152.0,1117.6 L1154.0,1116.9 L1156.0,1116.2 L1158.0,1115.5 L1160.0,1114.8 L1162.0,1114.1 L1164.0,1113.4 L1166.0,1112.8 L1168.0,1112.1 L1170.0,1111.5 L1172.0,1110.9 L1174.0,1110.3 L1176.0,1109.7 L1178.0,1109.2 L1180.0,1108.6 L1182.0,1108.0 L1184.0,1107.5 L1186.0,1107.0 L1188.0,1106.4 L1190.0,1105.9 L1192.0,1105.4 L1194.0,1104.9 L1196.0,1104.4 L1198.0,1103.9 L1200.0,1103.4 L1202.0,1102.9 L1204.0,1102.5 L1206.0,1102.1 L1208.0,1101.6 L1210.0,1101.2 L1212.0,1100.8 L1214.0,1100.5 L1216.0,1100.1 L1218.0,1099.8 L1220.0,1099.4 L1222.0,1099.1 L1224.0,1098.7 L1226.0,1098.4 L1228.0,1098.1 L1230.0,1097.8 L1232.0,1097.5 L1234.0,1097.2 L1236.0,1096.9 L1238.0,1096.6 L1240.0,1096.4 L1242.0,1096.1 L1244.0,1095.8 L1246.0,1095.5 L1248.0,1095.3 L1250.0,1095.0 L1252.0,1094.7 L1254.0,1094.5 L1256.0,1094.3 L1258.0,1094.0 L1260.0,1093.8 L1262.0,1093.6 L1264.0,1093.4 L1266.0,1093.2 L1268.0,1093.0 L1270.0,1092.8 L1272.0,1092.6 L1274.0,1092.4 L1276.0,1092.1 L1278.0,1091.9 L1280.0,1091.6 L1282.0,1091.4 L1284.0,1091.1 L1286.0,1090.7 L1288.0,1090.4 L1290.0,1090.0 L1292.0,1089.6 L1294.0,1089.1 L1296.0,1088.6 L1298.0,1088.1 L1300.0,1087.6 L1302.0,1087.0 L1304.0,1086.4 L1306.0,1085.8 L1308.0,1085.1 L1310.0,1084.5 L1312.0,1083.9 L1314.0,1083.3 L1316.0,1082.6 L1318.0,1082.0 L1320.0,1081.3 L1322.0,1080.6 L1324.0,1079.9 L1326.0,1079.2 L1328.0,1078.5 L1330.0,1077.7 L1332.0,1077.0 L1334.0,1076.2 L1336.0,1075.4 L1338.0,1074.6 L1340.0,1073.8 L1342.0,1072.9 L1344.0,1072.0 L1346.0,1071.1 L1348.0,1070.2 L1350.0,1069.3 L1352.0,1068.4 L1354.0,1067.4 L1356.0,1066.4 L1358.0,1065.4 L1360.0,1064.3 L1362.0,1063.2 L1364.0,1062.1 L1366.0,1060.9 L1368.0,1059.7 L1370.0,1058.4 L1372.0,1057.0 L1374.0,1055.5 L1376.0,1054.0 L1378.0,1052.4 L1380.0,1050.8 L1382.0,1049.2 L1384.0,1047.6 L1386.0,1046.1 L1388.0,1044.6 L1390.0,1043.2 L1392.0,1041.8 L1394.0,1040.4 L1396.0,1039.1 L1398.0,1037.7 L1400.0,1036.3 L1402.0,1035.0 L1404.0,1033.6 L1406.0,1032.3 L1408.0,1030.9 L1410.0,1029.6 L1412.0,1028.3 L1414.0,1027.0 L1416.0,1025.7 L1418.0,1024.4 L1420.0,1023.1 L1422.0,1021.7 L1424.0,1020.3 L1426.0,1018.7 L1428.0,1017.1 L1430.0,1015.4 L1432.0,1013.6 L1434.0,1011.8 L1436.0,1009.9 L1438.0,1008.1 L1440.0,1006.2 L1442.0,1004.4 L1444.0,1002.5 L1446.0,1000.5 L1448.0,998.5 L1450.0,996.6 L1452.0,994.9 L1454.0,993.2 L1456.0,991.8 L1458.0,990.4 L1460.0,989.0 L1462.0,987.8 L1464.0,986.6 L1466.0,985.5 L1468.0,984.5 L1470.0,983.8 L1472.0,983.0 L1474.0,982.3 L1476.0,981.7 L1478.0,981.1 L1480.0,980.6 L1482.0,980.2 L1484.0,980.0 L1486.0,980.0 L1488.0,980.1 L1490.0,980.4 L1492.0,980.7 L1494.0,981.1 L1496.0,981.5 L1498.0,982.0 L1500.0,982.5 L1502.0,983.1 L1504.0,983.9 L1506.0,984.8 L1508.0,985.8 L1510.0,986.9 L1512.0,988.1 L1514.0,989.4 L1516.0,990.7 L1518.0,992.2 L1520.0,993.9 L1522.0,995.7 L1524.0,997.7 L1526.0,999.7 L1528.0,1001.8 L1530.0,1003.9 L1532.0,1005.9 L1534.0,1007.8 L1536.0,1009.6 L1538.0,1011.4 L1540.0,1013.2 L1542.0,1014.9 L1544.0,1016.6 L1546.0,1018.3 L1548.0,1020.0 L1550.0,1021.7 L1552.0,1023.5 L1554.0,1025.3 L1556.0,1027.2 L1558.0,1029.1 L1560.0,1030.9 L1562.0,1032.9 L1564.0,1034.8 L1566.0,1036.8 L1568.0,1038.8 L1570.0,1041.0 L1572.0,1043.2 L1574.0,1045.5 L1576.0,1048.0 L1578.0,1050.6 L1580.0,1053.3 L1582.0,1056.0 L1584.0,1058.7 L1586.0,1061.3 L1588.0,1063.9 L1590.0,1066.6 L1592.0,1069.3 L1594.0,1071.9 L1596.0,1074.4 L1598.0,1076.8 L1600.0,1079.0 L1602.0,1080.9 L1604.0,1082.7 L1606.0,1084.4 L1608.0,1086.0 L1610.0,1087.7 L1612.0,1089.5 L1614.0,1091.5 L1616.0,1093.6 L1618.0,1095.9 L1620.0,1098.1 L1622.0,1100.4 L1624.0,1102.7 L1626.0,1104.8 L1628.0,1107.1 L1630.0,1109.4 L1632.0,1111.7 L1634.0,1114.0 L1636.0,1116.3 L1638.0,1118.6 L1640.0,1120.8 L1642.0,1123.0 L1644.0,1125.0 L1646.0,1126.8 L1648.0,1128.5 L1650.0,1130.0 L1652.0,1131.4 L1654.0,1132.7 L1656.0,1133.9 L1658.0,1135.1 L1660.0,1136.3 L1662.0,1137.4 L1664.0,1138.4 L1666.0,1139.4 L1668.0,1140.4 L1670.0,1141.3 L1672.0,1142.2 L1674.0,1143.1 L1676.0,1143.9 L1678.0,1144.7 L1680.0,1145.5 L1682.0,1146.3 L1684.0,1147.0 L1686.0,1147.8 L1688.0,1148.5 L1690.0,1149.2 L1692.0,1149.9 L1694.0,1150.6 L1696.0,1151.3 L1698.0,1152.0 L1700.0,1152.6 L1702.0,1153.2 L1704.0,1153.9 L1706.0,1154.4 L1708.0,1155.0 L1710.0,1155.6 L1712.0,1156.1 L1714.0,1156.6 L1716.0,1157.1 L1718.0,1157.6 L1720.0,1158.0 L1722.0,1158.4 L1724.0,1158.8 L1726.0,1159.2 L1728.0,1159.5 L1730.0,1159.9 L1732.0,1160.2 L1734.0,1160.6 L1736.0,1160.9 L1738.0,1161.2 L1740.0,1161.5 L1742.0,1161.8 L1744.0,1162.1 L1746.0,1162.4 L1748.0,1162.6 L1750.0,1162.9 L1752.0,1163.2 L1754.0,1163.4 L1756.0,1163.6 L1758.0,1163.9 L1760.0,1164.1 L1762.0,1164.3 L1764.0,1164.5 L1766.0,1164.7 L1768.0,1164.9 L1770.0,1165.1 L1772.0,1165.3 L1774.0,1165.4 L1776.0,1165.6 L1778.0,1165.7 L1780.0,1165.9 L1782.0,1166.0 L1784.0,1166.1 L1786.0,1166.3 L1788.0,1166.4 L1790.0,1166.5 L1792.0,1166.6 L1794.0,1166.8 L1796.0,1166.9 L1798.0,1167.0 L1800.0,1167.1 L1802.0,1167.2 L1804.0,1167.3 L1806.0,1167.4 L1808.0,1167.5 L1810.0,1167.6 L1812.0,1167.7 L1814.0,1167.8 L1816.0,1167.9 L1818.0,1168.0 L1820.0,1168.1 L1822.0,1168.2 L1824.0,1168.3 L1826.0,1168.4 L1828.0,1168.5" fill="none" stroke="#ff0000" stroke-width="12.3" stroke-linejoin="round" stroke-linecap="butt"/>
<path d="M198.0,1170.0 L200.0,1170.0 L202.0,1170.0 L204.0,1170.0 L206.0,1169.9 L208.0,1169.9 L210.0,1169.9 L212.0,1169.9 L214.0,1169.9 L216.0,1169.9 L218.0,1169.9 L220.0,1169.9 L222.0,1169.8 L224.0,1169.8 L226.0,1169.8 L228.0,1169.8 L230.0,1169.8 L232.0,1169.8 L234.0,1169.7 L236.0,1169.7 L238.0,1169.7 L240.0,1169.7 L242.0,1169.7 L244.0,1169.7 L246.0,1169.6 L248.0,1169.6 L250.0,1169.6 L252.0,1169.6 L254.0,1169.6 L256.0,1169.6 L258.0,1169.6 L260.0,1169.5 L262.0,1169.5 L264.0,1169.5 L266.0,1169.5 L268.0,1169.5 L270.0,1169.5 L272.0,1169.4 L274.0,1169.4 L276.0,1169.4 L278.0,1169.4 L280.0,1169.4 L282.0,1169.4 L284.0,1169.3 L286.0,1169.3 L288.0,1169.3 L290.0,1169.3 L292.0,1169.3 L294.0,1169.3 L296.0,1169.2 L298.0,1169.2 L300.0,1169.2 L302.0,1169.2 L304.0,1169.2 L306.0,1169.2 L308.0,1169.2 L310.0,1169.1 L312.0,1169.1 L314.0,1169.1 L316.0,1169.1 L318.0,1169.1 L320.0,1169.1 L322.0,1169.1 L324.0,1169.0 L326.0,1169.0 L328.0,1169.0 L330.0,1169.0 L332.0,1169.0 L334.0,1169.0 L336.0,1169.0 L338.0,1168.9 L340.0,1168.9 L342.0,1168.9 L344.0,1168.9 L346.0,1168.9 L348.0,1168.9 L350.0,1168.9 L352.0,1168.9 L354.0,1168.9 L356.0,1168.9 L358.0,1168.8 L360.0,1168.8 L362.0,1168.8 L364.0,1168.8 L366.0,1168.8 L368.0,1168.8 L370.0,1168.8 L372.0,1168.8 L374.0,1168.8 L376.0,1168.8 L378.0,1168.8 L380.0,1168.8 L382.0,1168.8 L384.0,1168.8 L386.0,1168.8 L388.0,1168.8 L390.0,1168.8 L392.0,1168.8 L394.0,1168.8 L396.0,1168.8 L398.0,1168.8 L400.0,1168.8 L402.0,1168.8 L404.0,1168.8 L406.0,1168.8 L408.0,1168.8 L410.0,1168.8 L412.0,1168.8 L414.0,1168.8 L416.0,1168.8 L418.0,1168.8 L420.0,1168.8 L422.0,1168.8 L424.0,1168.8 L426.0,1168.8 L428.0,1168.8 L430.0,1168.8 L432.0,1168.8 L434.0,1168.8 L436.0,1168.9 L438.0,1168.9 L440.0,1168.9 L442.0,1168.9 L444.0,1168.9 L446.0,1168.9 L448.0,1168.9 L450.0,1168.9 L452.0,1169.0 L454.0,1169.0 L456.0,1169.0 L458.0,1169.0 L460.0,1169.0 L462.0,1169.0 L464.0,1169.0 L466.0,1169.1 L468.0,1169.1 L470.0,1169.1 L472.0,1169.1 L474.0,1169.1 L476.0,1169.1 L478.0,1169.2 L480.0,1169.2 L482.0,1169.2 L484.0,1169.2 L486.0,1169.2 L488.0,1169.3 L490.0,1169.3 L492.0,1169.3 L494.0,1169.3 L496.0,1169.3 L498.0,1169.4 L500.0,1169.4 L502.0,1169.4 L504.0,1169.4 L506.0,1169.4 L508.0,1169.5 L510.0,1169.5 L512.0,1169.5 L514.0,1169.5 L516.0,1169.5 L518.0,1169.6 L520.0,1169.6 L522.0,1169.6 L524.0,1169.6 L526.0,1169.6 L528.0,1169.7 L530.0,1169.7 L532.0,1169.7 L534.0,1169.7 L536.0,1169.7 L538.0,1169.8 L540.0,1169.8 L542.0,1169.8 L544.0,1169.8 L546.0,1169.8 L548.0,1169.9 L550.0,1169.9 L552.0,1169.9 L554.0,1169.9 L556.0,1169.9 L558.0,1170.0 L560.0,1170.0 L562.0,1170.0 L564.0,1170.0 L566.0,1170.0 L568.0,1170.1 L570.0,1170.1 L572.0,1170.1 L574.0,1170.1 L576.0,1170.1 L578.0,1170.2 L580.0,1170.2 L582.0,1170.2 L584.0,1170.2 L586.0,1170.3 L588.0,1170.3 L590.0,1170.3 L592.0,1170.4 L594.0,1170.4 L596.0,1170.4 L598.0,1170.4 L600.0,1170.5 L602.0,1170.5 L604.0,1170.5 L606.0,1170.6 L608.0,1170.6 L610.0,1170.6 L612.0,1170.6 L614.0,1170.7 L616.0,1170.7 L618.0,1170.7 L620.0,1170.8 L622.0,1170.8 L624.0,1170.8 L626.0,1170.8 L628.0,1170.9 L630.0,1170.9 L632.0,1170.9 L634.0,1170.9 L636.0,1171.0 L638.0,1171.0 L640.0,1171.0 L642.0,1171.0 L644.0,1171.1 L646.0,1171.1 L648.0,1171.1 L650.0,1171.1 L652.0,1171.1 L654.0,1171.1 L656.0,1171.2 L658.0,1171.2 L660.0,1171.2 L662.0,1171.2 L664.0,1171.2 L666.0,1171.2 L668.0,1171.2 L670.0,1171.2 L672.0,1171.2 L674.0,1171.2 L676.0,1171.2 L678.0,1171.2 L680.0,1171.2 L682.0,1171.2 L684.0,1171.2 L686.0,1171.2 L688.0,1171.2 L690.0,1171.2 L692.0,1171.2 L694.0,1171.2 L696.0,1171.2 L698.0,1171.2 L700.0,1171.2 L702.0,1171.2 L704.0,1171.2 L706.0,1171.2 L708.0,1171.2 L710.0,1171.1 L712.0,1171.1 L714.0,1171.1 L716.0,1171.1 L718.0,1171.1 L720.0,1171.1 L722.0,1171.1 L724.0,1171.1 L726.0,1171.0 L728.0,1171.0 L730.0,1171.0 L732.0,1171.0 L734.0,1171.0 L736.0,1171.0 L738.0,1170.9 L740.0,1170.9 L742.0,1170.9 L744.0,1170.9 L746.0,1170.9 L748.0,1170.8 L750.0,1170.8 L752.0,1170.8 L754.0,1170.8 L756.0,1170.7 L758.0,1170.7 L760.0,1170.7 L762.0,1170.7 L764.0,1170.7 L766.0,1170.6 L768.0,1170.6 L770.0,1170.6 L772.0,1170.6 L774.0,1170.5 L776.0,1170.5 L778.0,1170.5 L780.0,1170.5 L782.0,1170.5 L784.0,1170.4 L786.0,1170.4 L788.0,1170.4 L790.0,1170.3 L792.0,1170.3 L794.0,1170.3 L796.0,1170.2 L798.0,1170.2 L800.0,1170.1 L802.0,1170.1 L804.0,1170.1 L806.0,1170.0 L808.0,1170.0 L810.0,1169.9 L812.0,1169.9 L814.0,1169.8 L816.0,1169.8 L818.0,1169.7 L820.0,1169.7 L822.0,1169.6 L824.0,1169.6 L826.0,1169.5 L828.0,1169.5 L830.0,1169.4 L832.0,1169.4 L834.0,1169.3 L836.0,1169.3 L838.0,1169.2 L840.0,1169.1 L842.0,1169.1 L844.0,1169.0 L846.0,1169.0 L848.0,1168.9 L850.0,1168.8 L852.0,1168.8 L854.0,1168.7 L856.0,1168.7 L858.0,1168.6 L860.0,1168.5 L862.0,1168.5 L864.0,1168.4 L866.0,1168.3 L868.0,1168.2 L870.0,1168.2 L872.0,1168.1 L874.0,1168.0 L876.0,1167.9 L878.0,1167.8 L880.0,1167.8 L882.0,1167.7 L884.0,1167.6 L886.0,1167.5 L888.0,1167.4 L890.0,1167.3 L892.0,1167.2 L894.0,1167.1 L896.0,1167.0 L898.0,1167.0 L900.0,1166.9 L902.0,1166.8 L904.0,1166.7 L906.0,1166.6 L908.0,1166.5 L910.0,1166.4 L912.0,1166.3 L914.0,1166.2 L916.0,1166.1 L918.0,1166.0 L920.0,1165.9 L922.0,1165.8 L924.0,1165.7 L926.0,1165.6 L928.0,1165.5 L930.0,1165.4 L932.0,1165.3 L934.0,1165.2 L936.0,1165.1 L938.0,1165.0 L940.0,1164.9 L942.0,1164.8 L944.0,1164.7 L946.0,1164.6 L948.0,1164.5 L950.0,1164.4 L952.0,1164.3 L954.0,1164.2 L956.0,1164.1 L958.0,1164.0 L960.0,1163.9 L962.0,1163.8 L964.0,1163.7 L966.0,1163.6 L968.0,1163.5 L970.0,1163.4 L972.0,1163.2 L974.0,1163.1 L976.0,1163.0 L978.0,1162.9 L980.0,1162.8 L982.0,1162.7 L984.0,1162.5 L986.0,1162.4 L988.0,1162.3 L990.0,1162.2 L992.0,1162.0 L994.0,1161.9 L996.0,1161.7 L998.0,1161.6 L1000.0,1161.5 L1002.0,1161.3 L1004.0,1161.2 L1006.0,1161.0 L1008.0,1160.9 L1010.0,1160.7 L1012.0,1160.5 L1014.0,1160.4 L1016.0,1160.2 L1018.0,1160.0 L1020.0,1159.8 L1022.0,1159.6 L1024.0,1159.4 L1026.0,1159.2 L1028.0,1159.0 L1030.0,1158.8 L1032.0,1158.6 L1034.0,1158.4 L1036.0,1158.2 L1038.0,1157.9 L1040.0,1157.7 L1042.0,1157.5 L1044.0,1157.3 L1046.0,1157.0 L1048.0,1156.8 L1050.0,1156.6 L1052.0,1156.4 L1054.0,1156.1 L1056.0,1155.9 L1058.0,1155.7 L1060.0,1155.4 L1062.0,1155.2 L1064.0,1155.0 L1066.0,1154.7 L1068.0,1154.5 L1070.0,1154.2 L1072.0,1154.0 L1074.0,1153.7 L1076.0,1153.5 L1078.0,1153.2 L1080.0,1152.9 L1082.0,1152.7 L1084.0,1152.4 L1086.0,1152.1 L1088.0,1151.8 L1090.0,1151.5 L1092.0,1151.2 L1094.0,1150.9 L1096.0,1150.6 L1098.0,1150.3 L1100.0,1150.0 L1102.0,1149.7 L1104.0,1149.3 L1106.0,1149.0 L1108.0,1148.6 L1110.0,1148.2 L1112.0,1147.9 L1114.0,1147.5 L1116.0,1147.1 L1118.0,1146.7 L1120.0,1146.2 L1122.0,1145.8 L1124.0,1145.4 L1126.0,1145.0 L1128.0,1144.6 L1130.0,1144.1 L1132.0,1143.7 L1134.0,1143.3 L1136.0,1142.8 L1138.0,1142.4 L1140.0,1142.0 L1142.0,1141.5 L1144.0,1141.0 L1146.0,1140.6 L1148.0,1140.1 L1150.0,1139.6 L1152.0,1139.2 L1154.0,1138.7 L1156.0,1138.2 L1158.0,1137.7 L1160.0,1137.2 L1162.0,1136.7 L1164.0,1136.3 L1166.0,1135.8 L1168.0,1135.3 L1170.0,1134.9 L1172.0,1134.4 L1174.0,1134.0 L1176.0,1133.5 L1178.0,1133.1 L1180.0,1132.7 L1182.0,1132.2 L1184.0,1131.8 L1186.0,1131.3 L1188.0,1130.9 L1190.0,1130.4 L1192.0,1130.0 L1194.0,1129.6 L1196.0,1129.1 L1198.0,1128.7 L1200.0,1128.3 L1202.0,1128.0 L1204.0,1127.6 L1206.0,1127.2 L1208.0,1126.9 L1210.0,1126.6 L1212.0,1126.3 L1214.0,1126.1 L1216.0,1125.8 L1218.0,1125.6 L1220.0,1125.3 L1222.0,1125.1 L1224.0,1124.9 L1226.0,1124.7 L1228.0,1124.5 L1230.0,1124.3 L1232.0,1124.2 L1234.0,1124.0 L1236.0,1123.8 L1238.0,1123.6 L1240.0,1123.4 L1242.0,1123.3 L1244.0,1123.1 L1246.0,1122.9 L1248.0,1122.7 L1250.0,1122.5 L1252.0,1122.3 L1254.0,1122.1 L1256.0,1121.9 L1258.0,1121.6 L1260.0,1121.4 L1262.0,1121.2 L1264.0,1120.9 L1266.0,1120.7 L1268.0,1120.5 L1270.0,1120.3 L1272.0,1120.1 L1274.0,1119.9 L1276.0,1119.8 L1278.0,1119.6 L1280.0,1119.5 L1282.0,1119.4 L1284.0,1119.3 L1286.0,1119.3 L1288.0,1119.2 L1290.0,1119.1 L1292.0,1119.1 L1294.0,1119.0 L1296.0,1118.9 L1298.0,1118.9 L1300.0,1118.8 L1302.0,1118.6 L1304.0,1118.4 L1306.0,1118.1 L1308.0,1117.8 L1310.0,1117.4 L1312.0,1117.0 L1314.0,1116.6 L1316.0,1116.1 L1318.0,1115.6 L1320.0,1115.1 L1322.0,1114.5 L1324.0,1114.0 L1326.0,1113.4 L1328.0,1112.8 L1330.0,1112.2 L1332.0,1111.6 L1334.0,1111.0 L1336.0,1110.4 L1338.0,1109.9 L1340.0,1109.3 L1342.0,1108.7 L1344.0,1108.1 L1346.0,1107.5 L1348.0,1106.8 L1350.0,1106.2 L1352.0,1105.5 L1354.0,1104.8 L1356.0,1104.1 L1358.0,1103.4 L1360.0,1102.7 L1362.0,1101.9 L1364.0,1101.1 L1366.0,1100.3 L1368.0,1099.5 L1370.0,1098.6 L1372.0,1097.7 L1374.0,1096.8 L1376.0,1095.7 L1378.0,1094.5 L1380.0,1093.1 L1382.0,1091.8 L1384.0,1090.4 L1386.0,1089.0 L1388.0,1087.6 L1390.0,1086.3 L1392.0,1085.1 L1394.0,1084.0 L1396.0,1083.1 L1398.0,1082.3 L1400.0,1081.7 L1402.0,1081.2 L1404.0,1080.8 L1406.0,1080.4 L1408.0,1080.0 L1410.0,1079.7 L1412.0,1079.4 L1414.0,1079.0 L1416.0,1078.5 L1418.0,1077.9 L1420.0,1077.3 L1422.0,1076.5 L1424.0,1075.2 L1426.0,1072.8 L1428.0,1069.8 L1430.0,1066.8 L1432.0,1064.2 L1434.0,1062.4 L1436.0,1060.9 L1438.0,1059.4 L1440.0,1058.1 L1442.0,1056.8 L1444.0,1055.6 L1446.0,1054.5 L1448.0,1053.3 L1450.0,1052.1 L1452.0,1050.8 L1454.0,1049.5 L1456.0,1048.0 L1458.0,1046.5 L1460.0,1044.9 L1462.0,1043.2 L1464.0,1041.6 L1466.0,1039.9 L1468.0,1038.2 L1470.0,1036.5 L1472.0,1034.9 L1474.0,1033.3 L1476.0,1031.7 L1478.0,1029.8 L1480.0,1027.9 L1482.0,1025.9 L1484.0,1024.1 L1486.0,1022.6 L1488.0,1021.6 L1490.0,1021.2 L1492.0,1021.5 L1494.0,1022.2 L1496.0,1023.2 L1498.0,1024.5 L1500.0,1026.1 L1502.0,1027.8 L1504.0,1029.6 L1506.0,1031.5 L1508.0,1033.3 L1510.0,1035.0 L1512.0,1036.7 L1514.0,1038.6 L1516.0,1040.6 L1518.0,1042.7 L1520.0,1044.8 L1522.0,1046.9 L1524.0,1049.0 L1526.0,1051.0 L1528.0,1053.0 L1530.0,1055.0 L1532.0,1057.0 L1534.0,1059.0 L1536.0,1061.0 L1538.0,1063.0 L1540.0,1065.0 L1542.0,1067.1 L1544.0,1069.2 L1546.0,1071.4 L1548.0,1073.5 L1550.0,1075.6 L1552.0,1077.5 L1554.0,1079.2 L1556.0,1080.7 L1558.0,1082.0 L1560.0,1083.1 L1562.0,1084.2 L1564.0,1085.3 L1566.0,1086.5 L1568.0,1087.9 L1570.0,1089.4 L1572.0,1091.0 L1574.0,1092.7 L1576.0,1094.5 L1578.0,1096.4 L1580.0,1098.2 L1582.0,1100.0 L1584.0,1101.7 L1586.0,1103.3 L1588.0,1104.9 L1590.0,1106.5 L1592.0,1108.0 L1594.0,1109.5 L1596.0,1111.0 L1598.0,1112.5 L1600.0,1114.0 L1602.0,1115.5 L1604.0,1117.0 L1606.0,1118.5 L1608.0,1120.0 L1610.0,1121.5 L1612.0,1123.0 L1614.0,1124.4 L1616.0,1125.9 L1618.0,1127.3 L1620.0,1128.7 L1622.0,1130.0 L1624.0,1131.4 L1626.0,1132.6 L1628.0,1133.9 L1630.0,1135.2 L1632.0,1136.4 L1634.0,1137.6 L1636.0,1138.8 L1638.0,1140.0 L1640.0,1141.1 L1642.0,1142.3 L1644.0,1143.4 L1646.0,1144.4 L1648.0,1145.5 L1650.0,1146.5 L1652.0,1147.5 L1654.0,1148.5 L1656.0,1149.5 L1658.0,1150.5 L1660.0,1151.5 L1662.0,1152.5 L1664.0,1153.5 L1666.0,1154.4 L1668.0,1155.3 L1670.0,1156.1 L1672.0,1157.0 L1674.0,1157.7 L1676.0,1158.4 L1678.0,1159.1 L1680.0,1159.7 L1682.0,1160.2 L1684.0,1160.7 L1686.0,1161.1 L1688.0,1161.6 L1690.0,1162.0 L1692.0,1162.5 L1694.0,1162.9 L1696.0,1163.3 L1698.0,1163.6 L1700.0,1164.0 L1702.0,1164.3 L1704.0,1164.7 L1706.0,1165.0 L1708.0,1165.3 L1710.0,1165.6 L1712.0,1165.9 L1714.0,1166.2 L1716.0,1166.4 L1718.0,1166.7 L1720.0,1166.9 L1722.0,1167.2 L1724.0,1167.4 L1726.0,1167.6 L1728.0,1167.8 L1730.0,1168.0 L1732.0,1168.2 L1734.0,1168.4 L1736.0,1168.6 L1738.0,1168.8 L1740.0,1169.0 L1742.0,1169.2 L1744.0,1169.3 L1746.0,1169.5 L1748.0,1169.7 L1750.0,1169.8 L1752.0,1170.0 L1754.0,1170.2 L1756.0,1170.3 L1758.0,1170.5 L1760.0,1170.6 L1762.0,1170.7 L1764.0,1170.9 L1766.0,1171.0 L1768.0,1171.1 L1770.0,1171.3 L1772.0,1171.4 L1774.0,1171.5 L1776.0,1171.6 L1778.0,1171.7 L1780.0,1171.8 L1782.0,1171.9 L1784.0,1172.0 L1786.0,1172.1 L1788.0,1172.2 L1790.0,1172.3 L1792.0,1172.4 L1794.0,1172.5 L1796.0,1172.6 L1798.0,1172.6 L1800.0,1172.7 L1802.0,1172.8 L1804.0,1172.8 L1806.0,1172.9 L1808.0,1173.0 L1810.0,1173.0 L1812.0,1173.1 L1814.0,1173.2 L1816.0,1173.2 L1818.0,1173.3 L1820.0,1173.3 L1822.0,1173.4 L1824.0,1173.5 L1826.0,1173.5 L1828.0,1173.6" fill="none" stroke="#0000ff" stroke-width="12.3" stroke-linejoin="round" stroke-linecap="butt"/>
<rect x="262" y="75" width="622" height="420" fill="#000"/>
<rect x="244" y="57" width="622" height="420.45" fill="#fff" stroke="#000" stroke-width="1.9"/>
<rect x="280.75" y="120.5" width="155.75" height="12.5" fill="#ff00ff"/>
<rect x="280.75" y="224.15" width="155.75" height="12.5" fill="#000"/>
<rect x="280.75" y="327.35" width="155.75" height="12.5" fill="#ff0000"/>
<rect x="280.75" y="430.65" width="155.75" height="12.5" fill="#0000ff"/>
<g font-family="'Liberation Sans', sans-serif" font-weight="700" fill="#000">
<text transform="translate(453.3,149.1) scale(1,1.025)" font-size="76">RhB (dark)</text>
<text transform="translate(453.3,252.3) scale(1,1.025)" font-size="76">x=0</text>
<text transform="translate(453.3,356) scale(1,1.025)" font-size="76">x=0.02</text>
<text transform="translate(453.3,459.6) scale(1,1.025)" font-size="76">x=0.05</text>
<text transform="translate(384.90,1350.3) scale(1,1.047)" font-size="104.6" text-anchor="middle">400</text>
<text transform="translate(744.12,1350.3) scale(1,1.047)" font-size="104.6" text-anchor="middle">450</text>
<text transform="translate(1103.35,1350.3) scale(1,1.047)" font-size="104.6" text-anchor="middle">500</text>
<text transform="translate(1462.58,1350.3) scale(1,1.047)" font-size="104.6" text-anchor="middle">550</text>
<text transform="translate(1821.80,1350.3) scale(1,1.047)" font-size="104.6" text-anchor="middle">600</text>
<clipPath id="cx"><rect x="500" y="1380" width="1000" height="122"/></clipPath>
<g clip-path="url(#cx)"><text transform="translate(1014.5,1483) scale(1,1.0)" font-size="105.4" text-anchor="middle">Wavelength (nm)</text></g>
<text transform="translate(130.3,612.1) rotate(-90) scale(1,1.0)" font-size="105.4" text-anchor="middle">Absorbance (a.u)</text>
</g></svg>
</body></html>
